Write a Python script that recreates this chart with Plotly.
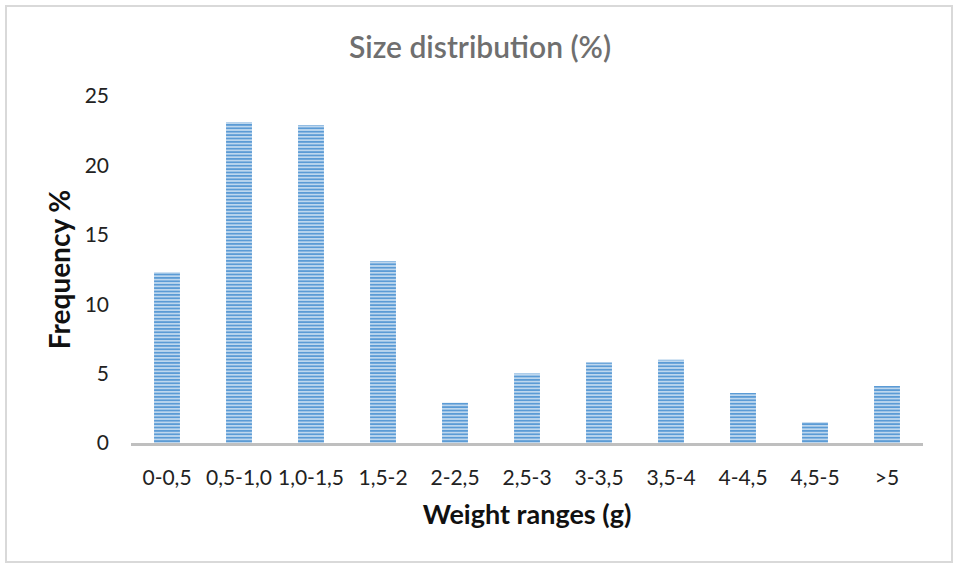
import plotly.graph_objects as go

categories = ["0-0,5", "0,5-1,0", "1,0-1,5", "1,5-2", "2-2,5", "2,5-3", "3-3,5", "3,5-4", "4-4,5", "4,5-5", ">5"]
tick_labels = ["0-0,5", "0,5-1,0", "1,0-1,5", "1,5-2", "2-2,5", "2,5-3", "3-3,5", "3,5-4", "4-4,5", "4,5-5", ">5"]
frequency = [12.3, 23.1, 22.9, 13.1, 2.9, 5.0, 5.8, 6.0, 3.6, 1.5, 4.1]
y_ticks = [0, 5, 10, 15, 20, 25]

BLUE = "#5B9BD5"
FONT = "Lato"

fig = go.Figure()
fig.add_trace(go.Bar(
    x=categories,
    y=frequency,
    marker=dict(
        color="white",
        line=dict(width=0),
        pattern=dict(shape="-", fgcolor=BLUE, bgcolor="white", size=3.4, solidity=0.7, fillmode="replace"),
    ),
    showlegend=False,
))

L, R, T, B = 131, 37, 96, 127
W, H = 960, 570
pw, ph = W - L - R, H - T - B

fig.update_layout(
    width=W, height=H,
    margin=dict(l=L, r=R, t=T, b=B),
    paper_bgcolor="white",
    plot_bgcolor="white",
    bargap=0.64,
    font=dict(family=FONT, color="#222222", size=21),
    title=dict(text="Size distribution (%)", x=0.5, xref="container", xanchor="center",
               y=1 - 47 / H, yref="container", yanchor="middle",
               font=dict(family=FONT, size=30, color="#6f6f6f", weight=600)),
    xaxis=dict(
        tickmode="array", tickvals=categories, ticktext=tick_labels,
        tickangle=0,
        showline=True, linecolor="#bfbfbf", linewidth=2.5,
        ticks="", showgrid=False, zeroline=False,
        ticklabelstandoff=14,
        tickfont=dict(family=FONT, size=21, color="#222222"),
        title=dict(text="<b>Weight ranges (g)</b>", standoff=18,
                   font=dict(family=FONT, size=27, color="#111111")),
    ),
    yaxis=dict(
        range=[0, 25], tickmode="array", tickvals=y_ticks,
        showline=False, showgrid=False, zeroline=False, ticks="",
        ticklabelstandoff=21,
        tickfont=dict(family=FONT, size=21, color="#222222"),
        title=dict(text="<b>Frequency %</b>", standoff=5,
                   font=dict(family=FONT, size=28, color="#111111")),
    ),
    shapes=[dict(
        type="rect", xref="paper", yref="paper",
        x0=(6 - L) / pw, x1=(952 - L) / pw,
        y0=(H - B - 562) / ph, y1=(H - B - 6) / ph,
        line=dict(color="#d9d9d9", width=2), fillcolor="rgba(0,0,0,0)", layer="below",
    )],
)

fig.write_html("out.html")
